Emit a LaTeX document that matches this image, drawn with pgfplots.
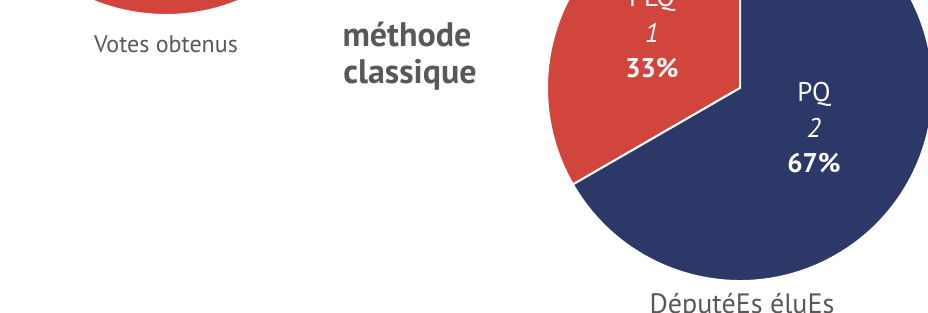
\documentclass[border=0pt]{standalone}
\usepackage{pgfplots}
\pgfplotsset{compat=1.18}
\usepackage{pgfplotstable}
\usepackage{fontspec}
\setmainfont{PT Sans}
\definecolor{plq}{HTML}{D1453D}
\definecolor{pq}{HTML}{2C3867}
\definecolor{txt}{HTML}{58585A}

% seats (DéputéEs éluEs)
\pgfplotstableread{
party value
PLQ 1
PQ 2
}\seats
% votes obtained (only the lower part of this pie is visible)
\pgfplotstableread{
party value
PLQ 60
PQ 40
}\votes

\begin{document}
\begin{tikzpicture}
\pgfplotstablegetelem{0}{value}\of\seats \let\sA\pgfplotsretval
\pgfplotstablegetelem{1}{value}\of\seats \let\sB\pgfplotsretval
\pgfmathsetmacro\angS{90+360*(\sA/(\sA+\sB))}
\pgfplotstablegetelem{0}{value}\of\votes \let\vA\pgfplotsretval
\pgfplotstablegetelem{1}{value}\of\votes \let\vB\pgfplotsretval
\pgfmathsetmacro\angV{90+360*(\vA/(\vA+\vB))}
\begin{axis}[name=ax, x=1bp, y=1bp, xmin=0, xmax=928, ymin=0, ymax=312,
  hide axis, clip=true, anchor=south west, at={(0,0)}]
% left pie: votes
\filldraw[fill=plq, draw=white, line width=2bp] (axis cs:166,490) -- ++(90:193bp)
  arc[start angle=90, end angle=\angV, radius=193bp] -- cycle;
\filldraw[fill=pq, draw=white, line width=2bp] (axis cs:166,490) -- ++(\angV:193bp)
  arc[start angle=\angV, end angle=450, radius=193bp] -- cycle;
% right pie: seats
\filldraw[fill=plq, draw=white, line width=2bp] (axis cs:740,224) -- ++(90:193bp)
  arc[start angle=90, end angle=\angS, radius=193bp] -- cycle;
\filldraw[fill=pq, draw=white, line width=2bp] (axis cs:740,224) -- ++(\angS:193bp)
  arc[start angle=\angS, end angle=450, radius=193bp] -- cycle;
% texts
\node[anchor=base, txt, font=\fontsize{24bp}{28bp}\selectfont] at (axis cs:166,260) {Votes obtenus};
\node[anchor=base, txt, font=\fontsize{34bp}{40bp}\selectfont\bfseries] at (axis cs:407,266) {méthode};
\node[anchor=base, txt, font=\fontsize{34bp}{40bp}\selectfont\bfseries] at (axis cs:410,229) {classique};
\node[anchor=base, white, font=\fontsize{27bp}{32bp}\selectfont] at (axis cs:652,306) {PLQ};
\node[anchor=base, white, font=\fontsize{27bp}{32bp}\selectfont\itshape] at (axis cs:652,270) {1};
\node[anchor=base, white, font=\fontsize{27bp}{32bp}\selectfont\bfseries] at (axis cs:652,235) {33\%};
\node[anchor=base, white, font=\fontsize{27bp}{32bp}\selectfont] at (axis cs:814,211) {PQ};
\node[anchor=base, white, font=\fontsize{27bp}{32bp}\selectfont\itshape] at (axis cs:814,175) {2};
\node[anchor=base, white, font=\fontsize{27bp}{32bp}\selectfont\bfseries] at (axis cs:814,140) {67\%};
\node[anchor=base, txt, font=\fontsize{28bp}{32bp}\selectfont] at (axis cs:742,-1) {DéputéEs éluEs};
\end{axis}
\pgfresetboundingbox
\path (ax.south west) rectangle (ax.north east);
\end{tikzpicture}
\end{document}
